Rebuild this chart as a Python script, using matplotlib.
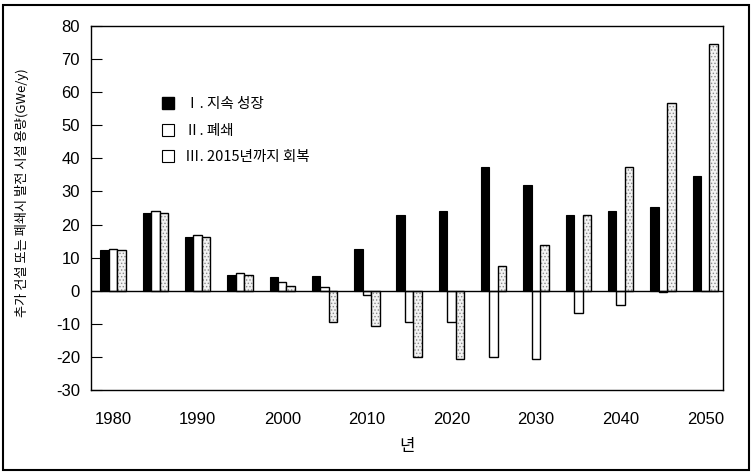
import matplotlib
matplotlib.use('Agg')
import matplotlib.pyplot as plt
import numpy as np
from matplotlib import font_manager
from matplotlib.lines import Line2D
from matplotlib.patches import Rectangle

# data (GWe/y)
years = [1980, 1985, 1990, 1995, 2000, 2005, 2010, 2015, 2020, 2025, 2030, 2035, 2040, 2045, 2050]
growth = [12.4, 23.6, 16.1, 4.7, 4.2, 4.4, 12.7, 23.0, 24.0, 37.5, 31.8, 22.9, 24.1, 25.2, 34.8]
closure = [12.7, 24.1, 16.8, 5.5, 2.6, 1.1, -1.2, -9.3, -9.6, -20.0, -20.5, -6.6, -4.2, -0.5, 0.0]
recovery = [12.2, 23.6, 16.1, 4.8, 1.4, -9.5, -10.6, -20.1, -20.5, 7.6, 13.9, 23.0, 37.3, 56.7, 74.6]
series_labels = ['Ⅰ. 지속 성장', 'Ⅱ. 폐쇄', 'Ⅲ. 2015년까지 회복']
tick_years = [1980, 1990, 2000, 2010, 2020, 2030, 2040, 2050]
y_ticks = list(range(-30, 90, 10))


def pick_font(names):
    # first installed family out of the list
    for n in names:
        try:
            font_manager.findfont(font_manager.FontProperties(family=n), fallback_to_default=False)
            return n
        except ValueError:
            pass
    return 'DejaVu Sans'


num_font = pick_font(['Liberation Sans Narrow', 'Liberation Sans'])
num_size = 13.5 if num_font == 'Liberation Sans Narrow' else 12
kr_font = ['Noto Sans CJK KR', 'DejaVu Sans']
plt.rcParams['font.family'] = kr_font
plt.rcParams['hatch.linewidth'] = 0.6

fig = plt.figure(figsize=(7.56, 4.74), dpi=100)
ax = fig.add_axes([91 / 756, 1 - 390 / 474, (723 - 91) / 756, (390 - 26) / 474])

x = np.array(years, dtype=float)
w = 1.0

# series I: solid black
ax.bar(x - w, growth, width=w, color='black', edgecolor='black', linewidth=0.8, zorder=3)
# series II: open white
ax.bar(x, closure, width=w, color='white', edgecolor='black', linewidth=1.0, zorder=3)
# series III: stippled grey, hatch drawn first then outlined
ax.bar(x + w, recovery, width=w, color='#f2f2f2', edgecolor='#8c8c8c', hatch='.....',
       linewidth=0, zorder=3)
ax.bar(x + w, recovery, width=w, fill=False, edgecolor='black', linewidth=1.0, zorder=4)

ax.axhline(0, color='black', linewidth=1.0, zorder=5)

ax.set_xlim(1977.4, 2052.1)
ax.set_ylim(-30, 80)
ax.set_yticks(y_ticks)
ax.set_xticks(tick_years)
ax.set_xticklabels([str(t) for t in tick_years], fontfamily=num_font, fontsize=num_size)
ax.set_yticklabels([str(t) for t in y_ticks], fontfamily=num_font, fontsize=num_size)
ax.tick_params(axis='y', direction='in', length=8, width=0.8, pad=8)
ax.tick_params(axis='x', length=0, pad=16)
for s in ax.spines.values():
    s.set_linewidth(1.0)

ax.set_xlabel('년', fontsize=12, labelpad=8)
fig.text(22 / 756, 1 - 193 / 474, '추가 건설 또는 폐쇄시 발전 시설 용량(GWe/y)',
         rotation=90, ha='center', va='center', fontsize=9.5)

handles = [
    Line2D([], [], marker='s', linestyle='none', markersize=8, markerfacecolor='black', markeredgecolor='black'),
    Line2D([], [], marker='s', linestyle='none', markersize=8, markerfacecolor='white', markeredgecolor='black', markeredgewidth=0.8),
    Line2D([], [], marker='s', linestyle='none', markersize=8, markerfacecolor='white', markeredgecolor='black', markeredgewidth=0.8),
]
ax.legend(handles, series_labels, loc='upper left', bbox_to_anchor=((153 - 91) / 632, (390 - 90) / 364),
          frameon=False, fontsize=10.5, borderpad=0, handlelength=1.0, handletextpad=0.7,
          labelspacing=0.85)

# outer frame around the whole figure
fig.add_artist(Rectangle((3 / 756, 4 / 474), 746 / 756, 465 / 474, transform=fig.transFigure,
                         fill=False, edgecolor='black', linewidth=1.5))

fig.savefig('out.png', dpi=100)
